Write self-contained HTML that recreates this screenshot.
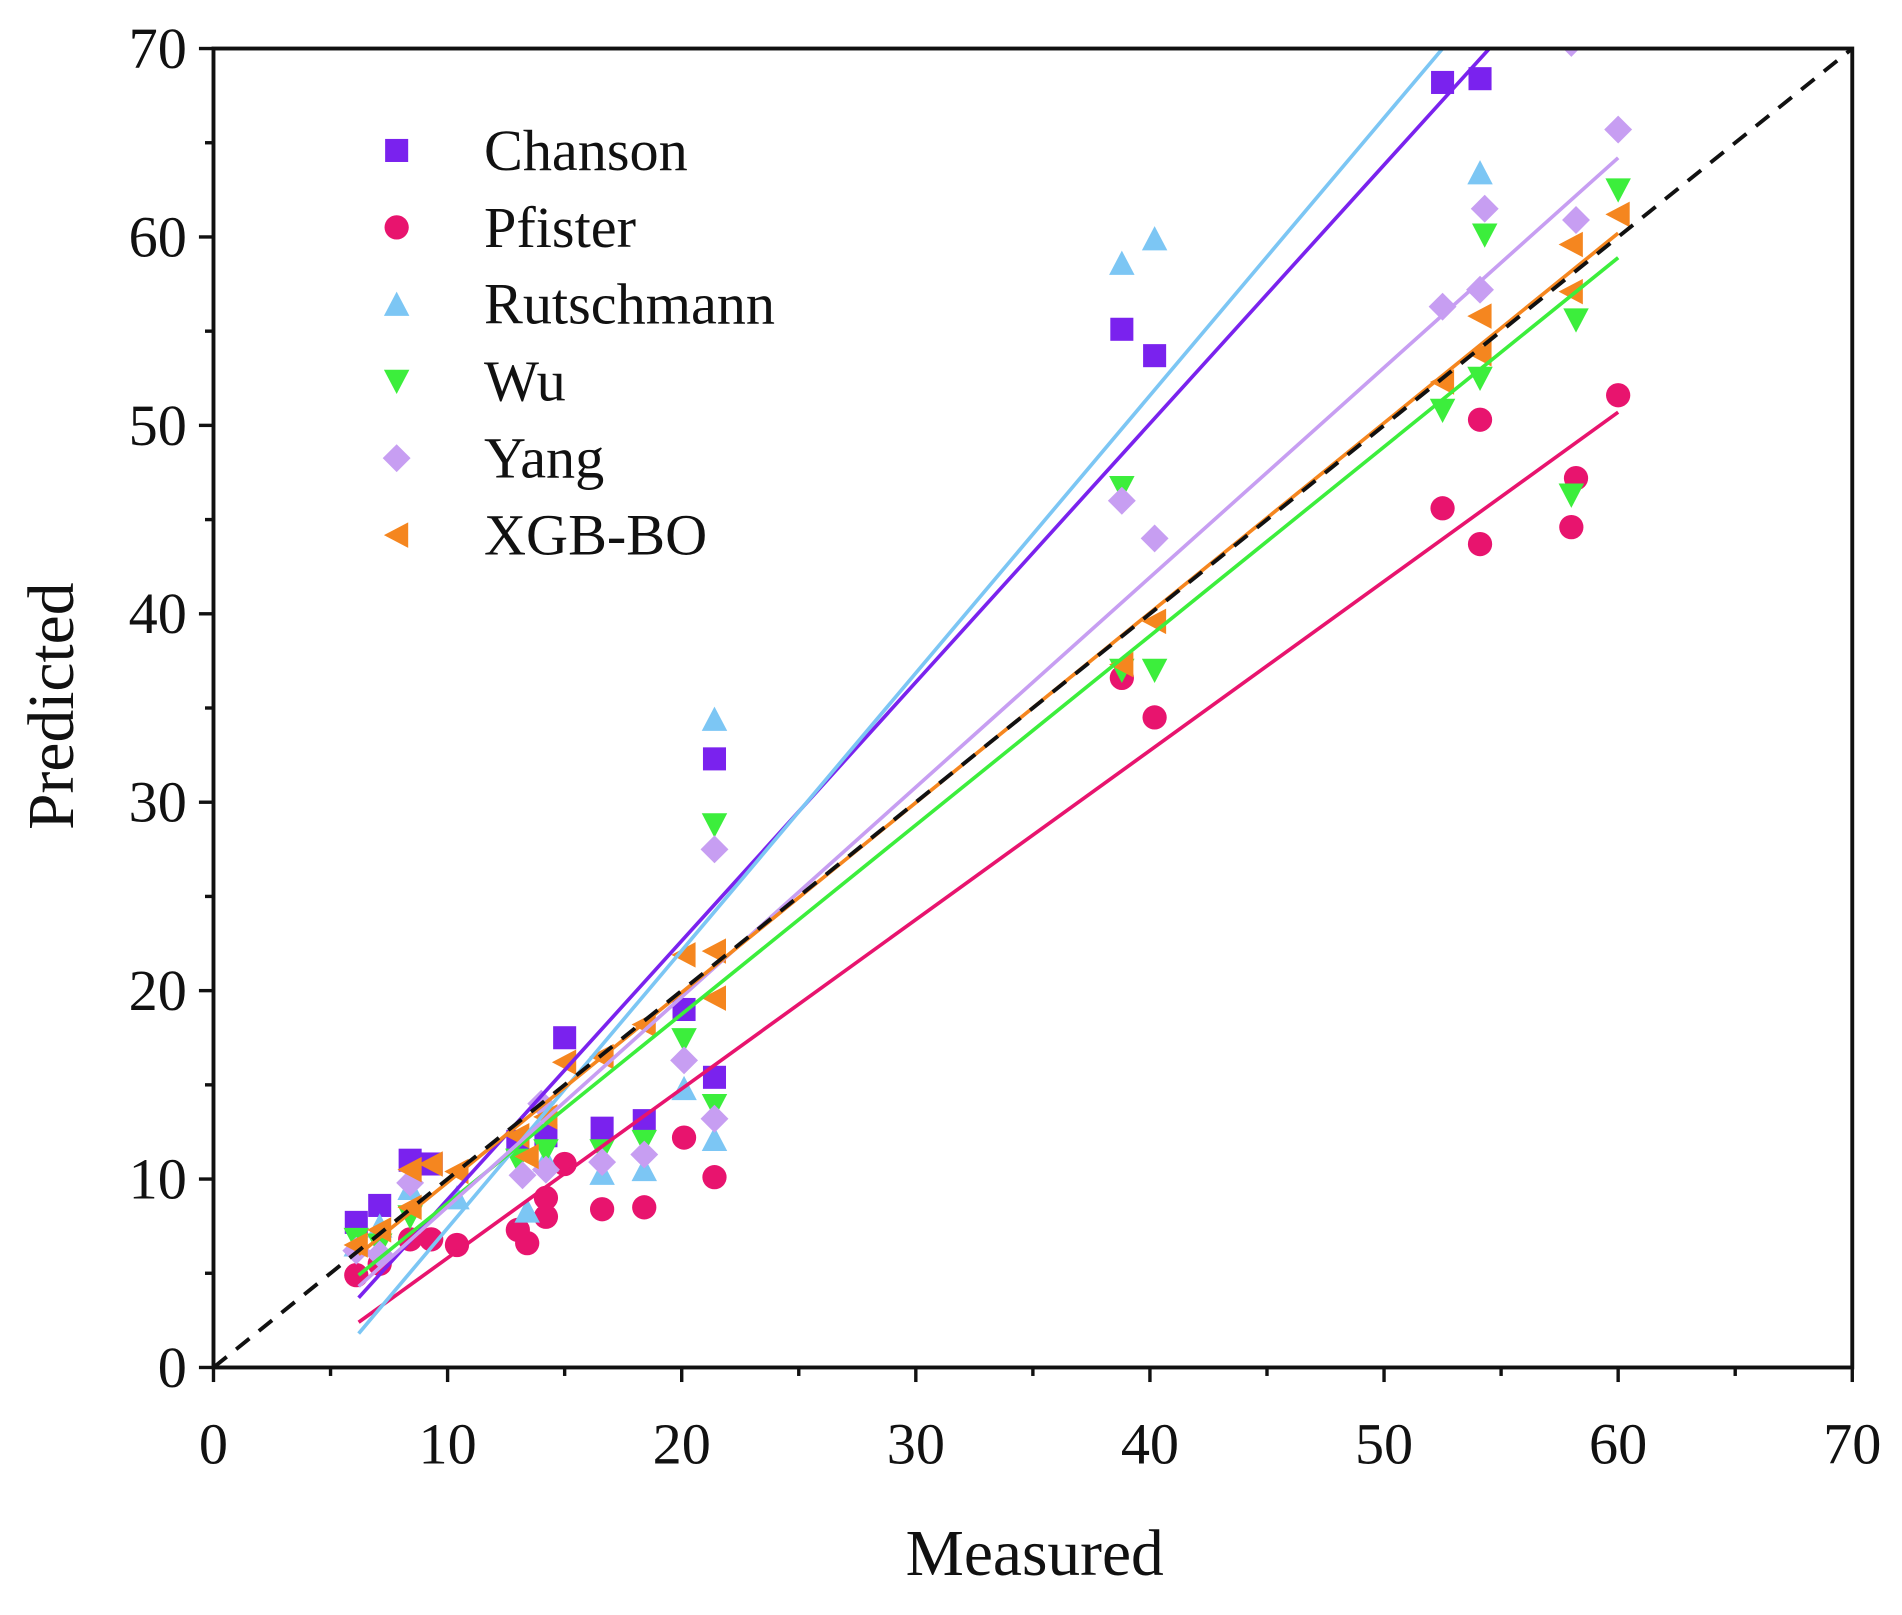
<!DOCTYPE html>
<html><head><meta charset="utf-8"><style>
html,body{margin:0;padding:0;background:#fff;}
svg{display:block;}
text{font-family:"Liberation Serif",serif;fill:#111;}
</style></head><body>
<svg id="chart" width="1902" height="1615" viewBox="0 0 1568 1331" preserveAspectRatio="none" xmlns="http://www.w3.org/2000/svg">
<g id="plot"></g>
<g id="axes"></g>
<g id="legend"></g>
<text x="853" y="1298" font-size="54" text-anchor="middle">Measured</text>
<text x="0" y="0" font-size="54" text-anchor="middle" transform="translate(60,582) rotate(-90)">Predicted</text>
</svg>
<script>
const seriesNames = ["Chanson","Pfister","Rutschmann","Wu","Yang","XGB-BO"];
const seriesColors = ["#7a22ee","#e8146e","#7cc6f4","#3cee3c","#c79ef2","#f5861f"];
const seriesShapes = ["square","circle","up","down","diamond","left"];
const chansonData = [[6.1,7.7],[7.1,8.6],[8.4,11],[9.3,10.8],[13,12],[14.2,12.3],[15,17.5],[16.6,12.7],[18.4,13.1],[20.1,19],[21.4,32.3],[21.4,15.4],[38.8,55.1],[40.2,53.7],[52.5,68.2],[54.1,68.4]];
const pfisterData = [[6.1,4.9],[7.1,5.5],[8.4,6.8],[9.3,6.8],[10.4,6.5],[13,7.3],[13.4,6.6],[14.2,8],[14.2,9],[15,10.8],[16.6,8.4],[18.4,8.5],[20.1,12.2],[21.4,10.1],[38.8,36.6],[40.2,34.5],[52.5,45.6],[54.1,43.7],[54.1,50.3],[58,44.6],[58.2,47.2],[60,51.6]];
const rutschData = [[6.1,6.5],[7.1,7.5],[8.4,9.5],[10.4,9],[13.4,8.3],[14.2,11],[16.6,10.3],[18.4,10.5],[20.1,14.8],[21.4,34.4],[21.4,12.1],[38.8,58.6],[40.2,59.9],[54.1,63.4]];
const wuData = [[6.1,6.8],[7.1,6.5],[8.4,8],[13,11],[14.2,11.5],[16.6,11.5],[18.4,12],[20.1,17.4],[21.4,28.8],[21.4,13.9],[38.8,46.7],[38.8,37],[40.2,37],[52.5,50.8],[54.1,52.5],[54.3,60.1],[58,46.3],[58.2,55.6],[60,62.5]];
const yangData = [[6.1,6.2],[7.1,6],[8.4,9.8],[13.2,10.2],[14.2,10.5],[14,14],[16.6,10.9],[18.4,11.3],[20.1,16.3],[21.4,27.5],[21.4,13.2],[38.8,46],[40.2,44],[52.5,56.3],[54.1,57.2],[54.3,61.5],[58.2,60.9],[60,65.7],[58,70.3]];
const xgbData = [[6.1,6.5],[7.1,7.3],[8.4,8.5],[8.4,10.5],[9.3,10.8],[10.4,10.4],[13,12.3],[13.4,11.2],[14.2,13.3],[15,16.2],[16.6,16.5],[18.4,18.2],[20.1,21.9],[21.4,22.1],[21.4,19.6],[38.8,37.3],[40.2,39.6],[52.5,52.3],[54.1,53.8],[54.1,55.8],[58,57.1],[58,59.6],[60,61.2]];
const fitLines = [[6.2,3.7,54.5,70],[6.2,2.4,60,50.7],[6.2,1.8,52.5,70],[6.2,4.9,60,58.9],[6.2,4.3,60,64.2],[6.2,6,60,60.2]];
const xTicks = [0,10,20,30,40,50,60,70];
const yTicks = [0,10,20,30,40,50,60,70];

const NS="http://www.w3.org/2000/svg";
const X0=176,X1=1527,Y0=1127,Y1=40;
function sx(v){return X0+v*(X1-X0)/70;}
function sy(v){return Y0-v*(Y0-Y1)/70;}
function mk(tag,attrs,parent){const e=document.createElementNS(NS,tag);for(const k in attrs)e.setAttribute(k,attrs[k]);parent.appendChild(e);return e;}
const plot=document.getElementById('plot'),axes=document.getElementById('axes'),legend=document.getElementById('legend');
const allData=[chansonData,pfisterData,rutschData,wuData,yangData,xgbData];

function marker(shape,cx,cy,color,parent){
  const s=9.5;let e;
  if(shape==="square")e=mk('rect',{x:cx-s,y:cy-s,width:2*s,height:2*s,fill:color},parent);
  else if(shape==="circle")e=mk('circle',{cx:cx,cy:cy,r:s+0.5,fill:color},parent);
  else{let p;
    if(shape==="up")p=[[cx,cy-s-1],[cx+s+1,cy+s],[cx-s-1,cy+s]];
    else if(shape==="down")p=[[cx,cy+s+1],[cx+s+1,cy-s],[cx-s-1,cy-s]];
    else if(shape==="diamond")p=[[cx,cy-s-2],[cx+s+2,cy],[cx,cy+s+2],[cx-s-2,cy]];
    else p=[[cx-s-1,cy],[cx+s,cy-s-1],[cx+s,cy+s+1]];
    e=mk('polygon',{points:p.map(q=>q.join(',')).join(' '),fill:color},parent);}
  return e;
}
const defs=mk('defs',{},plot);const cp=mk('clipPath',{id:'cp'},defs);mk('rect',{x:X0,y:Y1,width:X1-X0,height:Y0-Y1},cp);
const g=mk('g',{'clip-path':'url(#cp)'},plot);
allData.forEach((d,i)=>{d.forEach(p=>{
  const m=marker(seriesShapes[i],sx(p[0]),sy(p[1]),seriesColors[i],g);
  
  
});});
fitLines.forEach((l,i)=>{
  const e=mk('line',{x1:sx(l[0]),y1:sy(l[1]),x2:sx(l[2]),y2:sy(l[3]),stroke:seriesColors[i],'stroke-width':3},g);
  
  
});
const ref=mk('line',{x1:sx(0),y1:sy(0),x2:sx(70),y2:sy(70),stroke:'#111','stroke-width':3.2,'stroke-dasharray':'14,10'},g);


const fr=mk('rect',{x:X0,y:Y1,width:X1-X0,height:Y0-Y1,fill:'none',stroke:'#111','stroke-width':3.2},axes);


for(let v=0;v<=70;v+=5){
  const major=v%10===0;const L=major?12:7;
  mk('line',{x1:sx(v),y1:Y0,x2:sx(v),y2:Y0+L,stroke:'#111','stroke-width':2.8},axes);
  mk('line',{x1:X0,y1:sy(v),x2:X0-L,y2:sy(v),stroke:'#111','stroke-width':2.8},axes);
}
xTicks.forEach(v=>{const t=mk('text',{x:sx(v),y:Y0+79,'font-size':48,'text-anchor':'middle'},axes);t.textContent=v;
  
  });
yTicks.forEach(v=>{const t=mk('text',{x:X0-22,y:sy(v)+16,'font-size':48,'text-anchor':'end'},axes);t.textContent=v;
  
  });
seriesNames.forEach((n,i)=>{
  const yy=124+i*63.4;
  const gg=mk('g',{},legend);
  
  
  marker(seriesShapes[i],327,yy,seriesColors[i],gg);
  const t=mk('text',{x:399,y:yy+16,'font-size':48},gg);t.textContent=n;
});
</script>
</body></html>
